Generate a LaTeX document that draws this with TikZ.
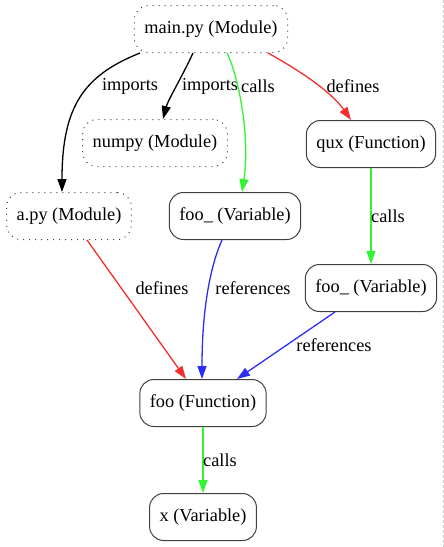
\documentclass[tikz,border=0pt]{standalone}
\usepackage{fontspec}
\setmainfont{Liberation Serif}
\usetikzlibrary{arrows.meta}

\definecolor{edgered}{RGB}{245,45,45}
\definecolor{edgegreen}{RGB}{50,245,50}
\definecolor{edgeblue}{RGB}{45,45,245}

\begin{document}
\begin{tikzpicture}[x=1pt,y=-1pt,
			-{Triangle[length=13pt,width=9pt]},line width=1.3pt,
			box node/.style={rectangle,rounded corners=14pt,draw=black!75,line width=1pt,minimum height=47pt,inner xsep=10pt,font=\fontsize{18.3}{20}\selectfont},
			module node/.style={box node,dash pattern=on 1pt off 5pt},
			entity node/.style={box node},
			edge label/.style={inner sep=1pt,font=\fontsize{18.3}{20}\selectfont}
			]
			
			\useasboundingbox (0,0) rectangle (444,547);
			\draw[-,black!20,line width=0.6pt,dash pattern=on 3pt off 2pt] (443.5,0) -- (443.5,547);
			
			% modules
			\node[module node] at (211,29) (main) {main.py (Module)};
			\node[module node] at (155,143) (numpy) {numpy (Module)};
			\node[module node] at (69,216) (apy) {a.py (Module)};
			
			% functions and variables
			\node[entity node] at (371,144) (qux) {qux (Function)};
			\node[entity node] at (235,216) (fooA) {foo\_ (Variable)};
			\node[entity node] at (371,288) (fooB) {foo\_ (Variable)};
			\node[entity node] at (203,403) (foo) {foo (Function)};
			\node[entity node] at (203,517) (x) {x (Variable)};
			
			\draw ([xshift=-71pt]main.south) .. controls (85,75) and (62,105) .. ([xshift=-7pt]apy.north)
				node[edge label] at (130,86) {imports};
			\draw ([xshift=-18pt]main.south) .. controls (183,75) and (168,100) .. ([xshift=8pt]numpy.north)
				node[edge label] at (210,86) {imports};
			\draw[edgegreen] ([xshift=16pt]main.south) .. controls (240,80) and (250,140) .. ([xshift=7pt]fooA.north)
				node[edge label,text=black] at (258,86) {calls};
			\draw[edgered] ([xshift=57pt]main.south) .. controls (295,68) and (330,90) .. ([xshift=-20pt]qux.north)
				node[edge label,text=black] at (353,86) {defines};
			\draw[edgegreen] (qux) -- (fooB)
				node[edge label,text=black] at (388,216) {calls};
			\draw[edgered] ([xshift=18pt]apy.south) -- ([xshift=-17pt]foo.north)
				node[edge label,text=black] at (162,288) {defines};
			\draw[edgeblue] ([xshift=-13pt]fooA.south) .. controls (213,260) and (202,300) .. ([xshift=-1pt]foo.north)
				node[edge label,text=black] at (253,288) {references};
			\draw[edgeblue] ([xshift=-36pt]fooB.south) -- ([xshift=34pt]foo.north)
				node[edge label,text=black] at (334,345) {references};
			\draw[edgegreen] (foo) -- (x)
				node[edge label,text=black] at (220,460) {calls};
			\end{tikzpicture}
\end{document}
